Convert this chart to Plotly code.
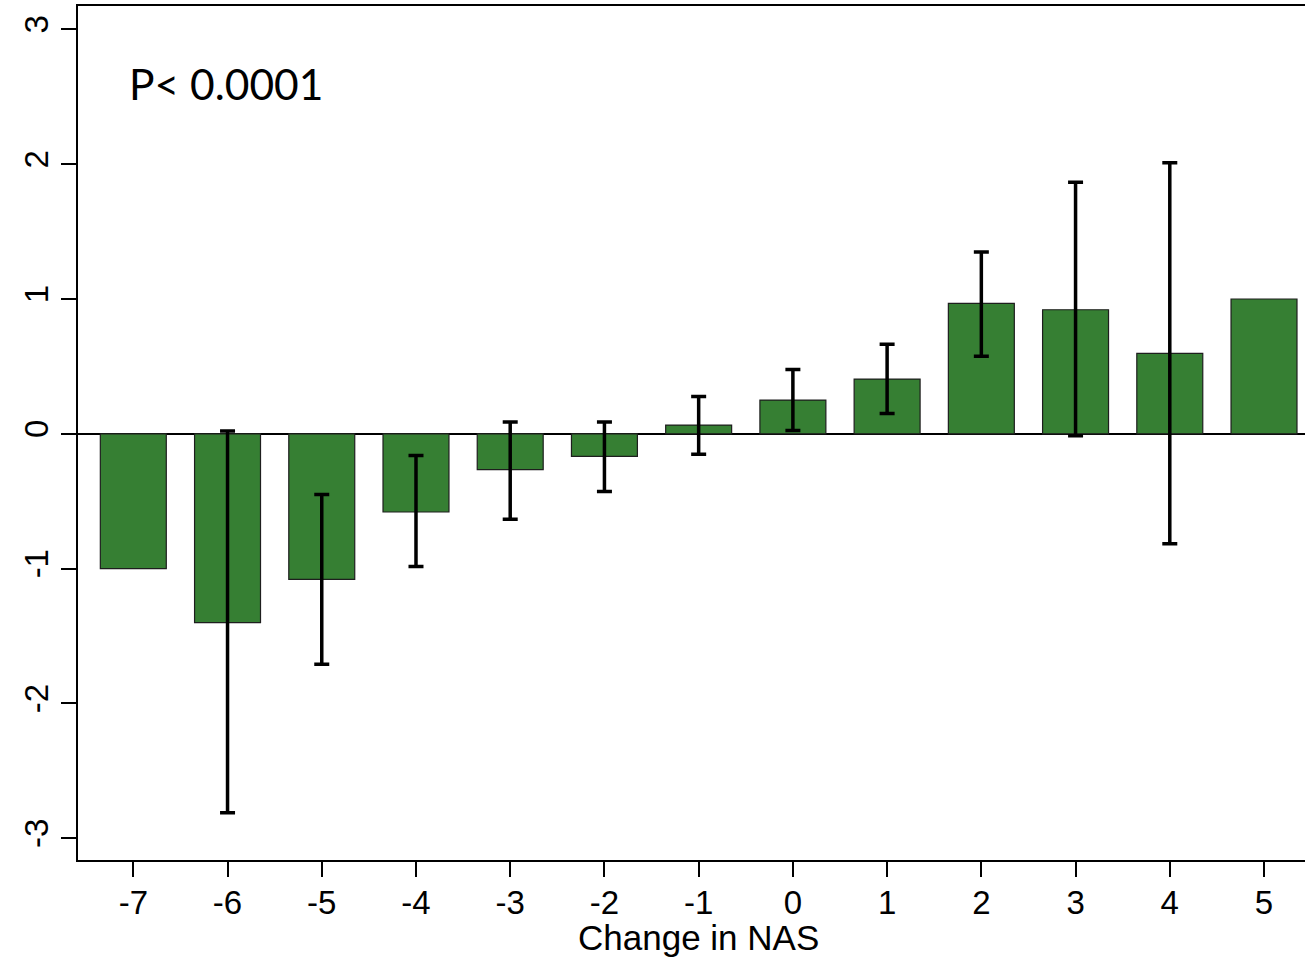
import plotly.graph_objects as go

nas_change = [-7, -6, -5, -4, -3, -2, -1, 0, 1, 2, 3, 4, 5]
mean_value = [-1.00, -1.40, -1.08, -0.58, -0.265, -0.168, 0.065, 0.25, 0.406, 0.967, 0.92, 0.596, 1.00]
ci_upper = [None, 0.02, -0.45, -0.16, 0.087, 0.087, 0.277, 0.477, 0.665, 1.348, 1.865, 2.01, None]
ci_lower = [None, -2.81, -1.71, -0.985, -0.634, -0.427, -0.151, 0.025, 0.15, 0.576, -0.015, -0.816, None]
y_ticks = [-3, -2, -1, 0, 1, 2, 3]
p_text = "P< 0.0001"
x_title = "Change in NAS"

# points that have confidence intervals
ci_idx = [i for i, u in enumerate(ci_upper) if u is not None]
ci_x = [nas_change[i] for i in ci_idx]
ci_y = [mean_value[i] for i in ci_idx]
err_plus = [ci_upper[i] - mean_value[i] for i in ci_idx]
err_minus = [mean_value[i] - ci_lower[i] for i in ci_idx]

fig = go.Figure()
fig.add_trace(go.Bar(
    x=nas_change, y=mean_value, width=0.7,
    marker=dict(color="rgb(54,127,51)", line=dict(color="rgb(30,30,30)", width=1.2)),
))
fig.add_trace(go.Scatter(
    x=ci_x, y=ci_y, mode="markers",
    marker=dict(size=1, opacity=0),
    error_y=dict(type="data", symmetric=False, array=err_plus, arrayminus=err_minus,
                 color="black", thickness=3.5, width=7.5),
))

fig.update_layout(
    width=1305, height=958,
    margin=dict(l=78, r=0, t=6, b=98),
    paper_bgcolor="white", plot_bgcolor="white",
    showlegend=False,
    font=dict(family="Liberation Sans, Arial, sans-serif", color="black"),
    xaxis=dict(
        range=[-7.587, 5.435], tickmode="array", tickvals=nas_change,
        ticktext=[str(v) for v in nas_change],
        showline=True, linecolor="black", linewidth=2, mirror=True,
        ticks="outside", ticklen=15, tickwidth=1.5, tickcolor="black",
        tickfont=dict(size=33), showgrid=False, zeroline=False,
        ticklabelstandoff=-3,
    ),
    yaxis=dict(
        range=[-3.161, 3.173], tickmode="array", tickvals=y_ticks,
        ticktext=[str(v) for v in y_ticks], tickangle=-90,
        showline=True, linecolor="black", linewidth=2,
        ticks="outside", ticklen=15, tickwidth=1.5, tickcolor="black",
        tickfont=dict(size=33), showgrid=False,
        zeroline=True, zerolinecolor="black", zerolinewidth=1.5,
    ),
    annotations=[
        dict(text=p_text, xref="paper", yref="paper",
             x=(127 - 78) / 1227, y=(860 - 84) / 854, xanchor="left", yanchor="middle",
             showarrow=False, font=dict(family="Lato, Open Sans, sans-serif", size=42.5, color="black")),
        dict(text=x_title, xref="x", yref="paper", x=-1, y=(860 - 937) / 854,
             xanchor="center", yanchor="middle", showarrow=False,
             font=dict(family="Liberation Sans, Arial, sans-serif", size=35, color="black")),
    ],
)

fig.write_html("out.html", config={"displayModeBar": False},
               post_script="document.body.style.margin='0';document.body.style.overflow='hidden';")
